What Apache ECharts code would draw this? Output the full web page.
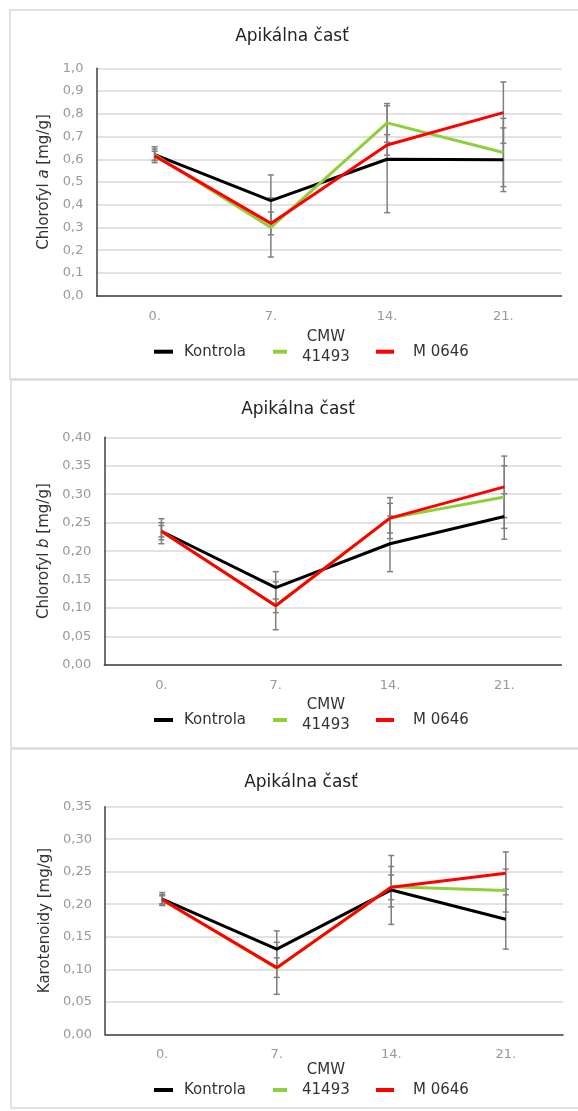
<!DOCTYPE html>
<html>
<head>
<meta charset="utf-8">
<script src="https://cdn.jsdelivr.net/npm/echarts@6/dist/echarts.min.js"></script>
<style>
html,body{margin:0;padding:0;background:#fff;}
#chart{width:578px;height:1111px;}
</style>
</head>
<body>
<div id="chart"></div>
<script>
// ---- data ----
const days = ['0.', '7.', '14.', '21.'];
const seriesNames = ['Kontrola', 'CMW 41493', 'M 0646'];
const panelTitle = 'Apikálna časť';

// Chlorofyl a
const chlA_kontrola = [0.62, 0.418, 0.60, 0.598];
const chlA_cmw = [0.62, 0.30, 0.76, 0.63];
const chlA_m0646 = [0.615, 0.318, 0.663, 0.805];
const chlA_kontrola_err = [0.035, 0.113, 0.235, 0.14];
const chlA_cmw_err = [0.025, 0.13, 0.085, 0.15];
const chlA_m0646_err = [0.02, 0.05, 0.045, 0.135];

// Chlorofyl b
const chlB_kontrola = [0.235, 0.136, 0.213, 0.261];
const chlB_cmw = [0.235, 0.104, 0.258, 0.295];
const chlB_m0646 = [0.235, 0.104, 0.258, 0.313];
const chlB_kontrola_err = [0.022, 0.028, 0.049, 0.04];
const chlB_cmw_err = [0.015, 0.042, 0.036, 0.055];
const chlB_m0646_err = [0.01, 0.012, 0.026, 0.054];

// Karotenoidy
const kar_kontrola = [0.208, 0.131, 0.222, 0.177];
const kar_cmw = [0.207, 0.1015, 0.227, 0.221];
const kar_m0646 = [0.207, 0.1025, 0.226, 0.2475];
const kar_kontrola_err = [0.01, 0.028, 0.053, 0.046];
const kar_cmw_err = [0.008, 0.04, 0.031, 0.033];
const kar_m0646_err = [0.006, 0.015, 0.019, 0.033];

// y-axis ticks
const yTicksA = {min: 0, max: 1.0, interval: 0.1, decimals: 1};
const yTicksB = {min: 0, max: 0.40, interval: 0.05, decimals: 2};
const yTicksK = {min: 0, max: 0.35, interval: 0.05, decimals: 2};

// ---- styling / layout ----
const colors = ['#000000', '#8fcf3c', '#ff0000'];
const FONT = 'DejaVu Sans';
const panels = [
  {top: 68.3, height: 227.4, left: 96.5, right: 16.5, ticks: yTicksA,
   name: ['Chlorofyl ', 'a', ' [mg/g]'], data: [chlA_kontrola, chlA_cmw, chlA_m0646],
   err: [chlA_kontrola_err, chlA_cmw_err, chlA_m0646_err],
   titleTop: 23, titleX: 287, legendY: 351.7, cmwPad: 10, frame: [10, 10, 369]},
  {top: 437.3, height: 227.7, left: 104.3, right: 16.6, ticks: yTicksB,
   name: ['Chlorofyl ', 'b', ' [mg/g]'], data: [chlB_kontrola, chlB_cmw, chlB_m0646],
   err: [chlB_kontrola_err, chlB_cmw_err, chlB_m0646_err],
   titleTop: 396, titleX: 293, legendY: 720, cmwPad: 10, frame: [11, 380, 368]},
  {top: 806.7, height: 227.6, left: 105, right: 15, ticks: yTicksK,
   name: ['Karotenoidy [mg/g]', '', ''], data: [kar_kontrola, kar_cmw, kar_m0646],
   err: [kar_kontrola_err, kar_cmw_err, kar_m0646_err],
   titleTop: 769, titleX: 296, legendY: 1090, cmwPad: 20, frame: [11, 749, 359]}
];

const grid = [], xAxis = [], yAxis = [], series = [], title = [], legend = [], graphic = [];

panels.forEach((p, gi) => {
  graphic.push({type: 'rect', shape: {x: p.frame[0], y: p.frame[1], width: 620, height: p.frame[2]},
    style: {fill: 'none', stroke: '#d9d9d9', lineWidth: 1.5}, silent: true, z: -1});
  grid.push({left: p.left, right: p.right, top: p.top, height: p.height});
  title.push({text: panelTitle, left: p.titleX, top: p.titleTop, textAlign: 'center',
    textStyle: {fontFamily: FONT, fontSize: 17, fontWeight: 'normal', color: '#222'}});
  xAxis.push({type: 'category', gridIndex: gi, data: days, boundaryGap: true,
    axisLine: {lineStyle: {color: '#404040', width: 1.5}}, axisTick: {show: false},
    axisLabel: {fontFamily: FONT, fontSize: 13, color: '#999', margin: 14}});
  const t = p.ticks;
  yAxis.push({type: 'value', gridIndex: gi, min: t.min, max: t.max, interval: t.interval,
    axisLine: {show: true, lineStyle: {color: '#404040', width: 1.5}}, axisTick: {show: false},
    splitLine: {lineStyle: {color: '#d9d9d9', width: 1.5}},
    axisLabel: {fontFamily: FONT, fontSize: 13, color: '#999', margin: 13,
      formatter: v => v.toFixed(t.decimals).replace('.', ',')},
    name: '{n|' + p.name[0] + '}' + (p.name[1] ? '{i|' + p.name[1] + '}{n|' + p.name[2] + '}' : ''),
    nameLocation: 'middle', nameGap: 40, nameRotate: 90,
    nameTextStyle: {fontFamily: FONT, fontSize: 15, color: '#333',
      rich: {n: {fontFamily: FONT, fontSize: 15, color: '#333'},
             i: {fontFamily: FONT, fontSize: 15, color: '#333', fontStyle: 'italic'}}}});

  // error bars first (under the lines)
  p.data.forEach((vals, si) => {
    series.push({type: 'custom', xAxisIndex: gi, yAxisIndex: gi, silent: true, z: 1,
      data: vals.map((v, i) => [i, v - p.err[si][i], v + p.err[si][i]]),
      encode: {x: 0, y: [1, 2]},
      renderItem: (params, api) => {
        const lo = api.coord([api.value(0), api.value(1)]);
        const hi = api.coord([api.value(0), api.value(2)]);
        const w = 3;
        const st = {stroke: '#7f7f7f', lineWidth: 1.5};
        return {type: 'group', children: [
          {type: 'line', shape: {x1: lo[0], y1: lo[1], x2: hi[0], y2: hi[1]}, style: st},
          {type: 'line', shape: {x1: lo[0] - w, y1: lo[1], x2: lo[0] + w, y2: lo[1]}, style: st},
          {type: 'line', shape: {x1: hi[0] - w, y1: hi[1], x2: hi[0] + w, y2: hi[1]}, style: st}
        ]};
      }});
  });
  p.data.forEach((vals, si) => {
    series.push({type: 'line', name: seriesNames[si], xAxisIndex: gi, yAxisIndex: gi, data: vals,
      showSymbol: false, symbol: 'none', z: 2 + si,
      lineStyle: {color: colors[si], width: 3}, itemStyle: {color: colors[si]}});
  });

  // legend: one component per item, placed like the original
  const base = {orient: 'horizontal', padding: 0, icon: 'rect', itemHeight: 4, selectedMode: false,
    textStyle: {fontFamily: FONT, fontSize: 15, color: '#333', lineHeight: 18}};
  legend.push(Object.assign({}, base, {left: 154, top: p.legendY - 9, itemWidth: 19,
    data: [seriesNames[0]], textStyle: Object.assign({}, base.textStyle, {padding: [0, 0, 0, 6]})}));
  const cmwH = 40 + p.cmwPad;
  legend.push(Object.assign({}, base, {left: 273, top: p.legendY - cmwH / 2, itemWidth: 14,
    data: [seriesNames[1]],
    formatter: () => '{a|CMW}\n{b|41493}\n{c| }',
    textStyle: Object.assign({}, base.textStyle, {padding: [0, 0, 0, 10],
      rich: {a: {fontFamily: FONT, fontSize: 15, color: '#333', lineHeight: 20, align: 'center'},
             b: {fontFamily: FONT, fontSize: 15, color: '#333', lineHeight: 20, align: 'center'},
             c: {fontSize: 2, lineHeight: p.cmwPad}}})}));
  legend.push(Object.assign({}, base, {left: 376, top: p.legendY - 9, itemWidth: 18,
    data: [seriesNames[2]], textStyle: Object.assign({}, base.textStyle, {padding: [0, 0, 0, 14]})}));
});

const chart = echarts.init(document.getElementById('chart'), null, {renderer: 'canvas'});
chart.setOption({
  animation: false,
  backgroundColor: '#fff',
  title, legend, grid, xAxis, yAxis, series, graphic
});
</script>
</body>
</html>
